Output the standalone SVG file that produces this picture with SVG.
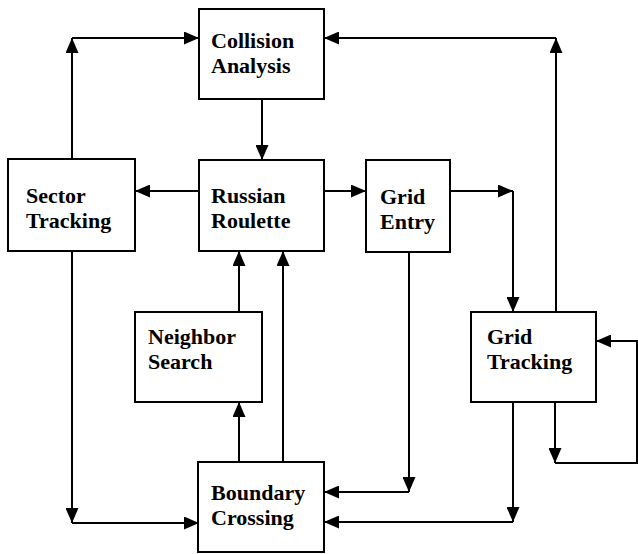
<svg xmlns="http://www.w3.org/2000/svg" width="638" height="554" viewBox="0 0 638 554">
<style>
.box{fill:#fff;stroke:#000;stroke-width:2}
.lbl{font-family:"Liberation Serif","Times New Roman",serif;font-weight:bold;font-size:22px;fill:#000}
.c{fill:none;stroke:#000;stroke-width:2}
.a{marker-end:url(#ah)}
</style>
<defs>
<marker id="ah" markerUnits="userSpaceOnUse" markerWidth="15" markerHeight="13" viewBox="0 0 15 13" refX="15" refY="6.5" orient="auto">
<path d="M0,0 L15,6.5 L0,13 Z" fill="#000"/>
</marker>
</defs>
<rect width="638" height="554" fill="#fff"/>
<g id="connectors">
<path class="c a" d="M72,159 V38"/>
<path class="c a" d="M72,38 H199"/>
<path class="c a" d="M262,99 V160"/>
<path class="c a" d="M199,191 H135"/>
<path class="c a" d="M324,191 H366"/>
<path class="c a" d="M450,191 H513"/>
<path class="c a" d="M513,191 V312"/>
<path class="c a" d="M556,312 V38"/>
<path class="c a" d="M556,38 H324"/>
<path class="c a" d="M555,402 V463"/>
<path class="c a" d="M555,463 H637 V341 H596"/>
<path class="c a" d="M513,402 V522"/>
<path class="c a" d="M513,522 H324"/>
<path class="c a" d="M409,252 V492"/>
<path class="c a" d="M409,492 H324"/>
<path class="c a" d="M72,251 V523"/>
<path class="c a" d="M72,523 H199"/>
<path class="c a" d="M239,312 V251"/>
<path class="c a" d="M239,462 V402"/>
<path class="c a" d="M283,462 V251"/>
</g>
<g id="collision">
<rect class="box" x="199" y="9" width="125" height="90"/>
<text class="lbl" x="211" y="48">Collision</text>
<text class="lbl" x="211" y="73">Analysis</text>
</g>
<g id="sector">
<rect class="box" x="8" y="159" width="127" height="92"/>
<text class="lbl" x="26" y="203">Sector</text>
<text class="lbl" x="26" y="228">Tracking</text>
</g>
<g id="russian">
<rect class="box" x="199" y="160" width="125" height="91"/>
<text class="lbl" x="211" y="203">Russian</text>
<text class="lbl" x="211" y="228">Roulette</text>
</g>
<g id="gridentry">
<rect class="box" x="366" y="160" width="84" height="92"/>
<text class="lbl" x="380" y="204">Grid</text>
<text class="lbl" x="380" y="229">Entry</text>
</g>
<g id="neighbor">
<rect class="box" x="135" y="312" width="127" height="90"/>
<text class="lbl" x="148" y="344">Neighbor</text>
<text class="lbl" x="148" y="369">Search</text>
</g>
<g id="gridtracking">
<rect class="box" x="471" y="312" width="125" height="90"/>
<text class="lbl" x="487" y="344">Grid</text>
<text class="lbl" x="487" y="369">Tracking</text>
</g>
<g id="boundary">
<rect class="box" x="198" y="462" width="126" height="90"/>
<text class="lbl" x="211" y="500">Boundary</text>
<text class="lbl" x="211" y="525">Crossing</text>
</g>
</svg>
